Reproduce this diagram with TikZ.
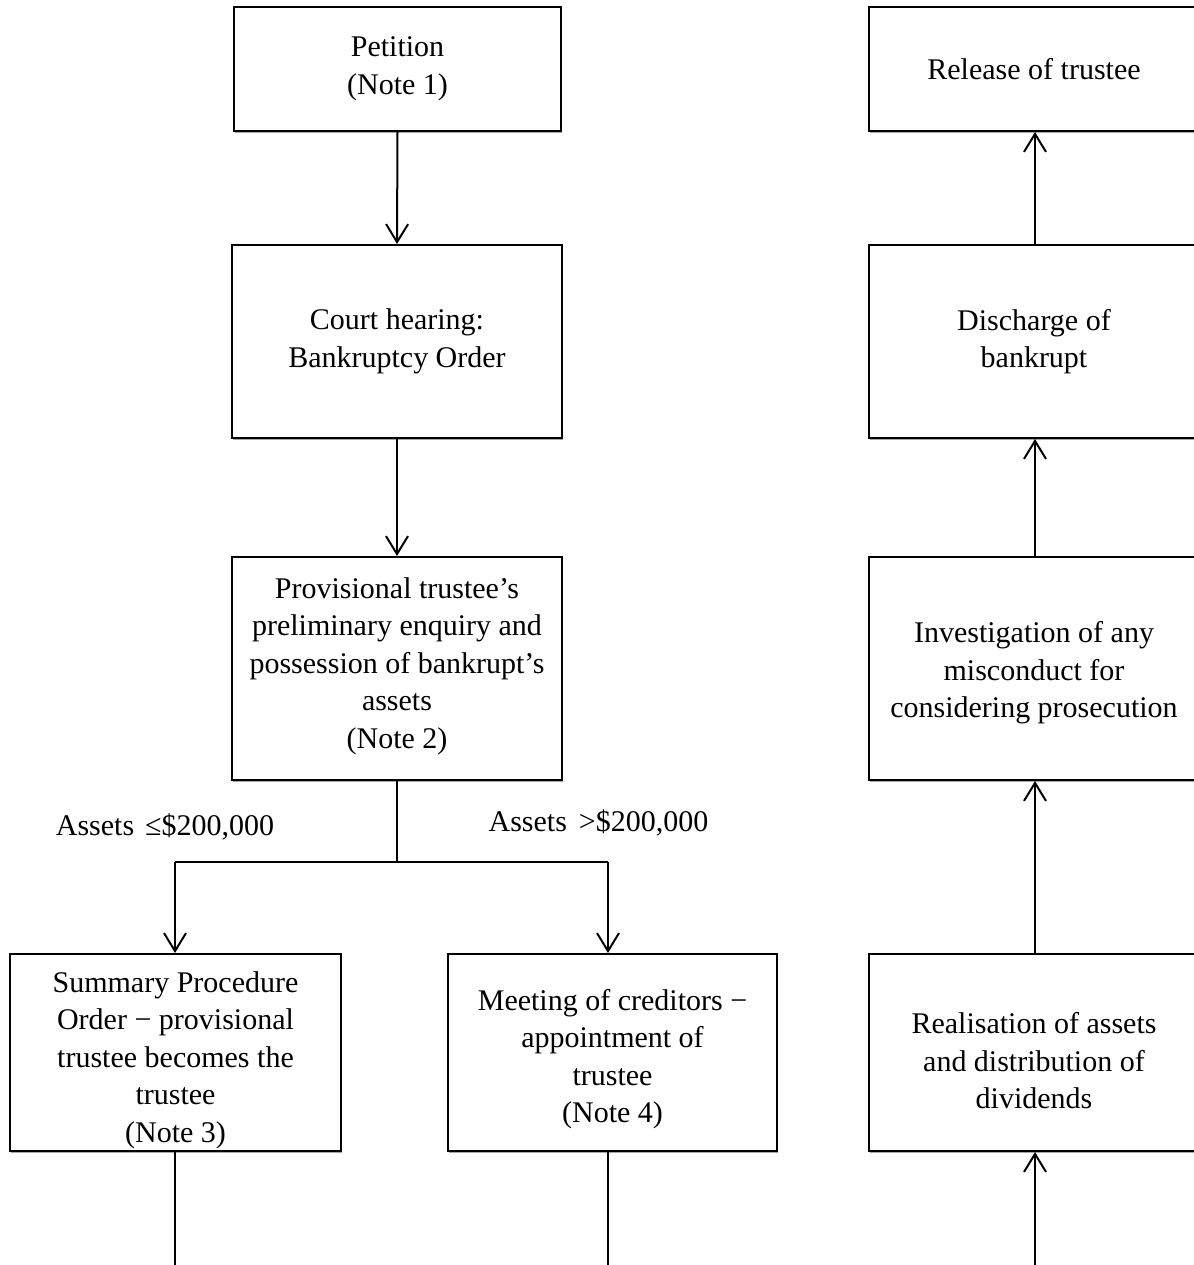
\documentclass[tikz,border=0pt]{standalone}
\usepackage{fontspec}
\setmainfont{Liberation Serif}
\usetikzlibrary{arrows.meta,shadows}
\begin{document}
\begin{tikzpicture}[x=0.5pt,y=-0.5pt,
  box/.style={draw=black,line width=1pt,fill=white,
    general shadow={fill=gray!70,shadow xshift=0.6pt,shadow yshift=-0.8pt},
    align=center,inner sep=0pt,
    font=\fontsize{15}{18.75}\selectfont},
  lbl/.style={align=center,inner sep=0pt,font=\fontsize{15}{18.75}\selectfont},
  conn/.style={line width=1pt},
  arr/.style={line width=1pt,-{Straight Barb[length=9pt,width=11pt,line width=1pt]}}]
\useasboundingbox (0,0) rectangle (1194,1265);
\clip (0,0) rectangle (1194,1265);
% left column
\node[box,minimum width=163.5pt,minimum height=62pt] (pet) at (397.5,69) {Petition\\(Note 1)};
\node[box,minimum width=165pt,minimum height=96.5pt] (court) at (397,341.5) {Court hearing:\\Bankruptcy Order};
\node[box,minimum width=165pt,minimum height=111.5pt] (prov) at (397,668.5) {};
\node[lbl] (provt) at (397,666) {Provisional trustee’s\\preliminary enquiry and\\possession of bankrupt’s\\assets\\(Note 2)};
\node[box,minimum width=165.5pt,minimum height=98.5pt] (summ) at (175.5,1052.5) {};
\node[lbl] (summt) at (175.5,1060) {Summary Procedure\\Order − provisional\\trustee becomes the\\trustee\\(Note 3)};
\node[box,minimum width=164.5pt,minimum height=98.5pt] (meet) at (612.5,1052.5) {};
\node[lbl] (meett) at (612.5,1059) {Meeting of creditors −\\appointment of\\trustee\\(Note 4)};
% right column
\node[box,minimum width=165pt,minimum height=62pt] (rel) at (1034,69) {Release of trustee};
\node[box,minimum width=165pt,minimum height=96.5pt] (dis) at (1034,341.5) {Discharge of\\bankrupt};
\node[box,minimum width=165pt,minimum height=111.5pt] (inv) at (1034,668.5) {};
\node[lbl] (invt) at (1034,673) {Investigation of any\\misconduct for\\considering prosecution};
\node[box,minimum width=165pt,minimum height=98.5pt] (real) at (1034,1052.5) {};
\node[lbl] (realt) at (1034,1061) {Realisation of assets\\and distribution of\\dividends};
% labels
\node[lbl] (lo) at (165,827) {Assets\hspace{5.5pt}≤\$200,000};
\node[lbl] (hi) at (598.5,823) {Assets\hspace{6pt}>\$200,000};
% coordinates
\coordinate (j) at (397,862);
\coordinate (jl) at (175,862);
\coordinate (jr) at (608,862);
\coordinate (bl) at (175,1266);
\coordinate (bm) at (608,1266);
\coordinate (br) at (1035,1266);
% connectors
\draw[arr] (pet.south) -- (court.north);
\draw[arr] (court.south) -- (prov.north);
\draw[conn] (prov.south) -- (j);
\draw[conn] (jl) -- (jr);
\draw[arr] (jl) -- (jl |- summ.north);
\draw[arr] (jr) -- (jr |- meet.north);
\draw[conn] (summ.south -| bl) -- (bl);
\draw[conn] (meet.south -| bm) -- (bm);
\draw[arr] (br) -- (br |- real.south);
\draw[arr] (real.north -| br) -- (br |- inv.south);
\draw[arr] (inv.north -| br) -- (br |- dis.south);
\draw[arr] (dis.north -| br) -- (br |- rel.south);
\end{tikzpicture}
\end{document}
